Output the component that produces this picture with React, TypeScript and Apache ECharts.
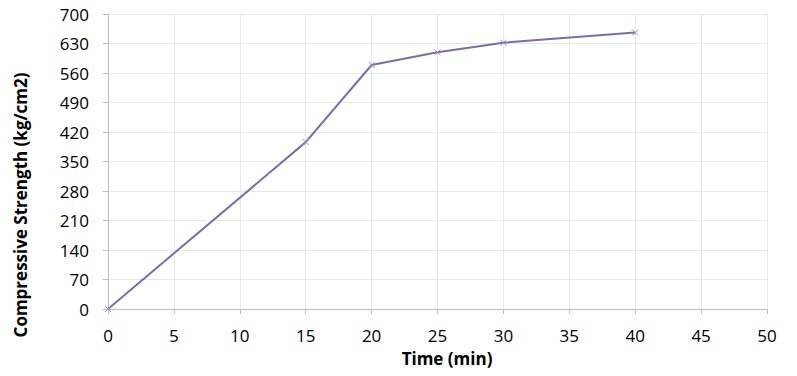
import React, { useEffect, useRef } from "react";
import * as echarts from "echarts";

const timeMin = [0, 15, 20, 25, 30, 40];
const strength = [0, 396, 579, 609, 632, 656];
const xTicks = { min: 0, max: 50, interval: 5 };
const yTicks = { min: 0, max: 700, interval: 70 };
const xTitle = "Time (min)";
const yTitle = "Compressive Strength (kg/cm2)";

export default function App() {
  const ref = useRef<HTMLDivElement>(null);
  useEffect(() => {
    const chart = echarts.init(ref.current!, null, { renderer: "svg" });
    const font = "'Open Sans', 'Liberation Sans', sans-serif";
    chart.setOption({
      animation: false,
      backgroundColor: "#ffffff",
      grid: { left: 108, right: 30, top: 14, bottom: 67 },
      graphic: [
        {
          type: "text",
          x: 20,
          y: 205,
          rotation: Math.PI / 2,
          style: {
            text: yTitle,
            font: `bold 17px ${font}`,
            fill: "#000",
            align: "center",
            verticalAlign: "middle",
          },
        },
        {
          type: "text",
          x: 447,
          y: 358,
          style: {
            text: xTitle,
            font: `bold 17px ${font}`,
            fill: "#000",
            align: "center",
            verticalAlign: "middle",
          },
        },
      ],
      xAxis: {
        type: "value",
        min: xTicks.min,
        max: xTicks.max,
        interval: xTicks.interval,
        axisLine: { show: true, lineStyle: { color: "#bfbfbf", width: 1 } },
        axisTick: { show: true, length: 5, lineStyle: { color: "#bfbfbf" } },
        axisLabel: { fontFamily: font, fontSize: 17, color: "#000", margin: 18 },
        splitLine: { show: true, lineStyle: { color: "#e8e8e8", width: 1 } },
      },
      yAxis: {
        type: "value",
        min: yTicks.min,
        max: yTicks.max,
        interval: yTicks.interval,
        axisLine: { show: true, lineStyle: { color: "#bfbfbf", width: 1 } },
        axisTick: { show: true, length: 5, lineStyle: { color: "#bfbfbf" } },
        axisLabel: { fontFamily: font, fontSize: 17, color: "#000", margin: 19 },
        splitLine: { show: true, lineStyle: { color: "#e8e8e8", width: 1 } },
      },
      series: [
        {
          type: "line",
          data: timeMin.map((t, i) => [t, strength[i]]),
          lineStyle: { color: "#7f6ca3", width: 2 },
          symbol: "path://M0,0L10,10M10,0L0,10",
          symbolSize: 6,
          itemStyle: { color: "none", borderColor: "#a08cc0", borderWidth: 1 },
        },
      ],
    });
    return () => chart.dispose();
  }, []);
  return <div ref={ref} style={{ width: 797, height: 376, position: "absolute", left: 0, top: 0 }} />;
}
